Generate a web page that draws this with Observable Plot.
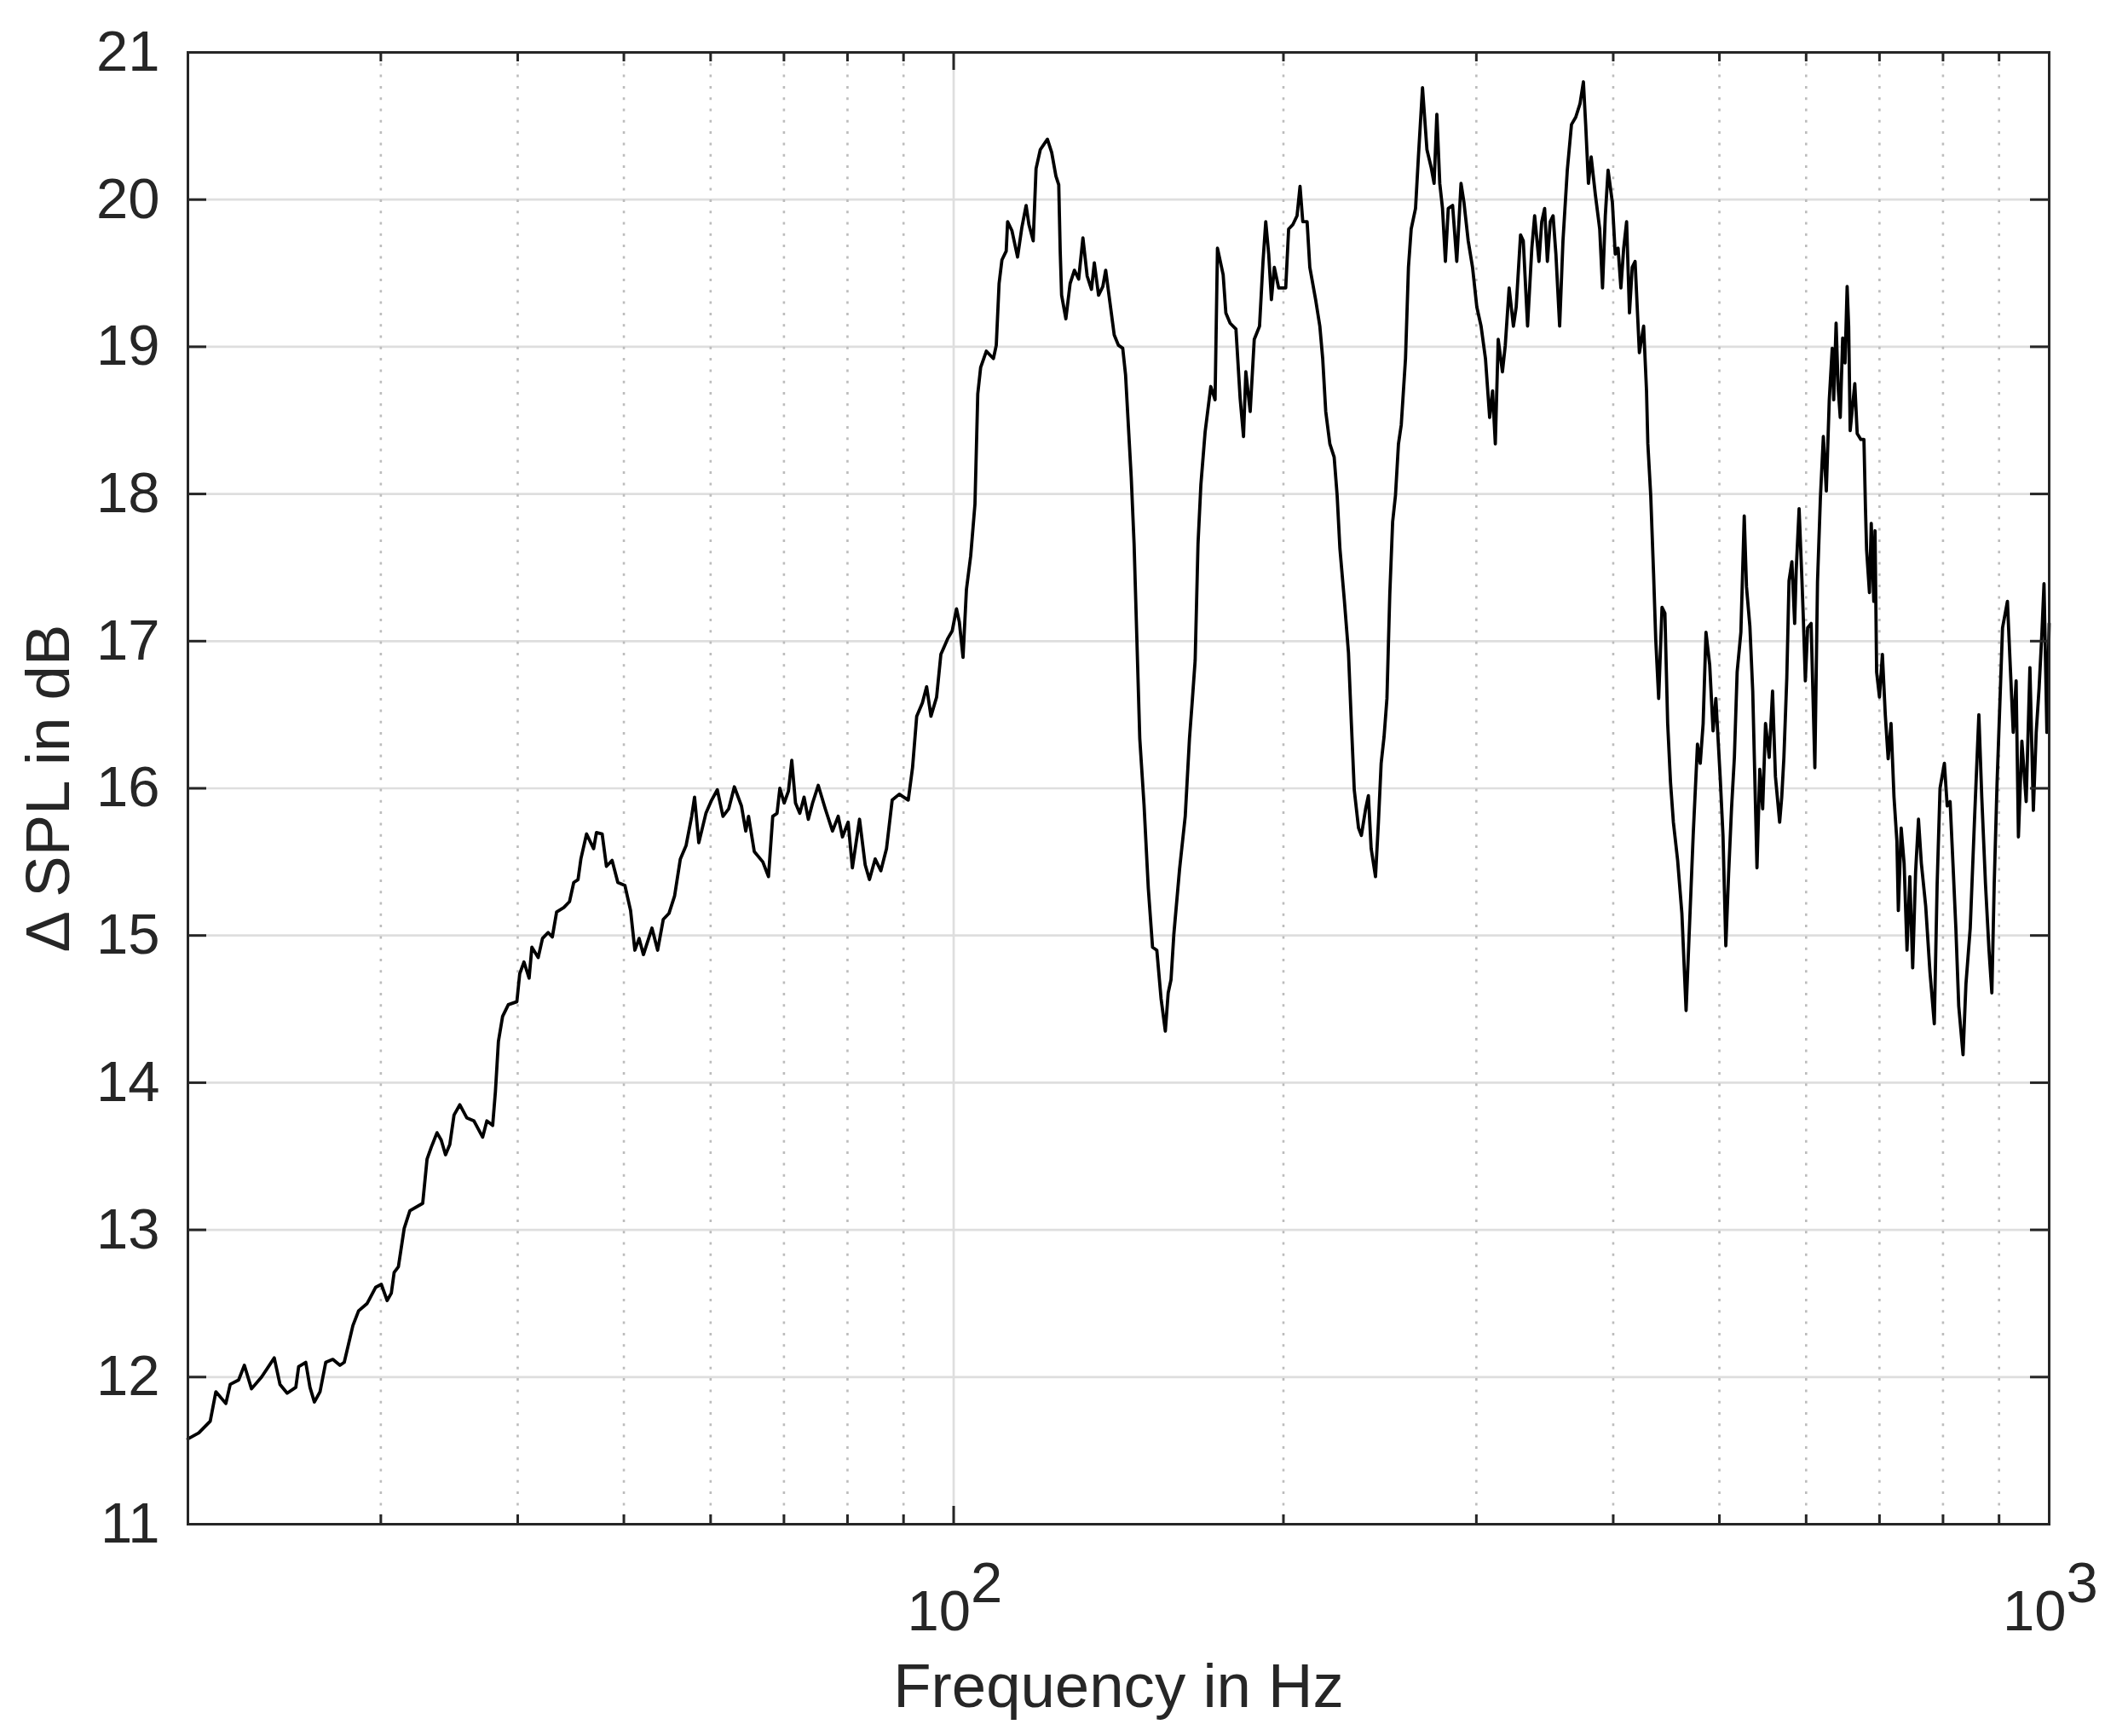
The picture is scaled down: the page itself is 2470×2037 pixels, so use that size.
<!DOCTYPE html>
<html>
<head>
<meta charset="utf-8">
<script src="https://cdn.jsdelivr.net/npm/d3@7"></script>
<script src="https://cdn.jsdelivr.net/npm/@observablehq/plot@0.6"></script>
<style>
  html, body { margin: 0; padding: 0; background: #ffffff; }
  #chart svg { display: block; }
</style>
</head>
<body>
<div id="chart"></div>
<script>
// Frequency in Hz (log axis) and ΔSPL in dB
const freq = [
  20.00,20.46,20.96,21.21,21.66,21.86,22.25,22.52,22.86,23.35,23.98,24.27,24.64,25.09,25.24,25.62,25.85,26.09,26.40,26.72,
  27.12,27.53,27.78,28.29,28.63,29.15,29.68,30.03,30.40,30.67,30.85,31.13,31.51,31.89,32.76,33.06,33.35,33.76,34.06,34.37,
  34.68,34.99,35.42,35.95,36.49,37.16,37.49,37.95,38.17,
  38.41,38.75,39.22,39.93,40.17,40.53,40.97,41.21,41.76,42.14,42.64,43.02,43.41,44.07,44.60,45.00,45.41,45.68,46.23,46.92,
  47.20,47.77,48.20,48.78,49.37,50.11,50.71,51.17,51.63,52.10,53.04,53.68,54.32,54.97,55.63,56.30,56.98,57.66,58.01,58.53,
  59.41,60.13,60.85,61.58,62.32,63.07,64.02,64.60,64.98,65.77,66.96,67.76,68.37,68.99,69.40,70.03,70.66,71.16,71.72,72.37,
  73.02,73.68,74.34,75.23,76.36,77.52,78.45,79.16,80.11,80.83,82.05,83.03,83.78,84.79,85.81,86.84,87.88,89.20,
  90.90,91.72,92.53,93.64,94.48,95.34,96.48,97.35,98.81,99.70,100.60,101.20,101.99,102.72,103.65,104.58,105.20,105.84,107.11,108.72,
  109.37,110.02,110.68,111.68,112.01,113.02,114.38,115.41,116.45,117.14,118.20,118.91,119.98,121.78,122.88,123.98,124.72,125.10,125.47,126.60,
  127.74,128.89,130.05,131.22,132.40,133.60,134.40,135.61,136.83,137.65,138.89,140.14,141.40,142.67,143.52,144.38,145.25,146.12,146.99,147.87,
  149.20,150.55,151.90,153.27,154.65,156.04,156.97,157.91,158.86,160.77,162.70,164.16,165.15,166.13,167.13,168.13,169.64,171.68,173.23,
  174.1,176.2,177.2,178.8,181.0,182.6,183.9,184.8,186.5,188.1,190.2,191.6,192.7,193.9,195.0,196.2,198.0,200.96,202.2,204.0,
  205.8,207.1,208.3,210.2,211.4,214.0,215.9,217.2,218.6,220.5,222.5,223.9,225.2,227.3,229.3,230.7,232.1,234.2,235.6,237.7,
  239.1,240.5,242.7,244.2,245.6,247.1,248.6,250.1,251.6,253.1,254.7,256.2,258.5,260.1,261.6,264.0,265.6,267.9,270.4,272.8,
  274.5,276.1,277.8,279.4,281.1,282.8,285.4,287.9,290.5,292.3,294.9,297.6,300.3,303.0,305.8,308.5,310.4,312.2,314.1,316.9,318.8,
  321.4,324.3,326.2,329.2,331.1,334.1,337.1,339.1,342.2,344.2,346.3,348.3,350.4,352.5,354.6,357.4,359.9,363.2,366.4,369.7,
  373.0,375.7,377.5,379.7,381.9,385.3,388.8,391.1,393.4,395.7,399.3,401.7,404.1,406.5,408.9,411.4,413.9,416.3,418.8,422.6,
  426.4,429.0,430.2,432.8,435.4,437.4,440.1,443.2,445.9,448.5,451.2,453.9,458.0,462.1,466.2,469.0,473.2,477.5,480.3,483.2,
  486.1,489.9,493.4,496.3,500.8,503.8,506.8,509.8,512.9,516.0,519.0,523.1,526.8,529.3,533.1,536.3,541.1,544.3,547.6,550.9,
  555.2,559.1,562.5,567.5,570.0,572.6,576.1,578.8,582.3,585.7,587.6,591.2,594.7,596.5,599.0,601.9,606.3,611.1,614.5,618.3,
  622.1,626.0,629.9,633.8,635.8,639.0,641.8,644.6,647.9,651.1,654.0,656.1,658.2,664.6,668.0,673.1,677.5,679.7,681.3,685.4,
  688.0,691.7,693.5,695.8,700.0,704.3,708.6,712.9,717.2,721.7,726.1,728.3,732.7,737.2,741.7,746.1,750.6,755.2,759.8,764.4,
  771.4,778.4,785.5,790.2,795.0,802.3,807.1,812.0,816.9,821.9,826.9,834.4,839.5,847.1,854.8,862.6,867.9,874.7,881.2,886.5,
  890.9,896.2,901.4,906.6,916.0,921.6,927.2,932.9,937.4,944.2,952.8,960.3,967.3,973.1,979.0,984.9,989.2,995.2,1000.0
];
const spl = [
  11.58,11.62,11.70,11.90,11.82,11.95,11.98,12.08,11.92,12.00,12.13,11.95,11.89,11.93,12.07,12.10,11.93,11.83,11.90,12.10,
  12.12,12.08,12.10,12.35,12.45,12.50,12.61,12.63,12.52,12.57,12.71,12.75,13.01,13.13,13.18,13.48,13.56,13.66,13.61,13.51,
  13.58,13.78,13.85,13.76,13.74,13.63,13.74,13.71,13.94,
  14.28,14.45,14.53,14.55,14.74,14.82,14.71,14.92,14.85,14.98,15.02,14.99,15.16,15.19,15.23,15.36,15.38,15.52,15.69,15.59,
  15.70,15.69,15.47,15.51,15.36,15.34,15.17,14.90,14.98,14.87,15.05,14.90,15.11,15.15,15.27,15.52,15.61,15.81,15.94,15.63,
  15.83,15.92,15.99,15.81,15.86,16.01,15.88,15.71,15.81,15.57,15.50,15.40,15.81,15.83,16.00,15.90,15.98,16.19,15.90,15.83,
  15.94,15.79,15.90,16.02,15.86,15.71,15.81,15.67,15.77,15.46,15.79,15.48,15.38,15.52,15.44,15.59,15.92,15.96,
  15.92,16.14,16.49,16.58,16.69,16.49,16.62,16.91,17.02,17.07,17.22,17.13,16.89,17.35,17.58,17.93,18.68,18.86,18.97,18.92,
  19.01,19.43,19.59,19.65,19.85,19.79,19.61,19.81,19.96,19.83,19.72,20.21,20.34,20.41,20.32,20.16,20.10,19.65,19.35,19.19,
  19.43,19.52,19.46,19.74,19.48,19.39,19.57,19.35,19.41,19.52,19.30,19.08,19.01,18.99,18.81,18.46,18.11,17.66,17.00,16.34,
  15.89,15.32,14.92,14.90,14.57,14.35,14.61,14.70,15.01,15.45,15.81,16.34,16.60,16.87,17.66,18.06,18.42,18.73,18.64,
  19.67,19.49,19.23,19.16,19.12,18.65,18.39,18.83,18.56,19.05,19.14,19.58,19.85,19.63,19.32,19.54,19.40,19.40,19.80,19.83,
  19.89,20.09,19.85,19.85,19.54,19.32,19.14,18.92,18.56,18.34,18.25,17.99,17.63,17.28,16.92,16.44,15.99,15.73,15.68,15.86,
  15.95,15.59,15.40,15.77,16.17,16.35,16.61,17.32,17.81,17.99,18.34,18.47,18.92,19.54,19.80,19.94,20.29,20.76,20.34,20.22,
  20.11,20.58,20.11,19.94,19.58,19.94,19.96,19.58,20.11,19.98,19.72,19.54,19.27,19.14,18.92,18.52,18.70,18.34,19.05,18.83,19.01,
  19.40,19.14,19.27,19.76,19.72,19.14,19.67,19.89,19.58,19.85,19.94,19.58,19.85,19.89,19.63,19.14,19.72,20.20,20.51,20.56,
  20.65,20.80,20.51,20.11,20.29,20.03,19.80,19.40,19.89,20.20,19.98,19.63,19.67,19.40,19.67,19.85,19.23,19.54,19.58,18.96,
  19.14,18.70,18.34,17.99,17.46,17.01,16.61,17.23,17.19,16.44,16.04,15.77,15.51,15.15,14.49,14.97,15.68,16.30,16.17,16.44,
  17.06,16.84,16.39,16.61,16.08,15.68,14.93,15.42,15.86,16.21,16.79,17.06,17.85,17.37,17.10,16.66,15.46,16.13,15.86,16.44,
  16.21,16.66,16.08,15.77,15.94,16.21,16.75,17.41,17.54,17.12,17.48,17.90,17.42,17.15,16.73,17.09,17.12,16.14,17.40,17.98,
  18.39,18.02,18.64,18.99,18.64,19.16,18.72,18.52,19.06,18.89,19.41,19.14,18.43,18.75,18.41,18.37,18.37,17.90,17.62,17.33,
  17.80,17.27,17.75,16.79,16.62,16.91,16.50,16.20,16.44,15.94,15.64,15.17,15.73,15.49,14.90,15.40,14.78,15.43,15.79,15.49,
  15.20,14.75,14.40,15.35,16.00,16.17,15.88,15.91,15.49,15.05,14.52,14.19,14.67,15.05,15.79,16.50,15.94,15.35,14.90,14.61,
  15.35,16.03,16.56,17.09,17.27,16.82,16.38,16.73,15.67,16.32,15.91,16.82,15.85,16.38,16.68,17.06,17.39,16.38,17.12
];

const yTicks = [11, 12, 13, 14, 15, 16, 17, 18, 19, 20, 21];
const xMajorTicks = [100, 1000];
const xMinorTicks = [30, 40, 50, 60, 70, 80, 90, 200, 300, 400, 500, 600, 700, 800, 900];
const xTickBase = ["10", "10"];
const xTickExponent = ["2", "3"];
const xLabel = "Frequency in Hz";
const yLabel = "\u0394 SPL in dB";

const data = freq.map((f, i) => ({ f, v: spl[i] }));
const majorLabels = xMajorTicks.map((t, i) => ({ t, base: xTickBase[i], exp: xTickExponent[i] }));

const W = 2470, H = 2037;
const mL = 220, mR = 66, mT = 61, mB = 249;
const plotW = W - mL - mR, plotH = H - mT - mB;
const ink = "#262626";

const chart = Plot.plot({
  width: W,
  height: H,
  marginLeft: mL,
  marginRight: mR,
  marginTop: mT,
  marginBottom: mB,
  x: { type: "log", domain: [20, 1000], axis: null },
  y: { domain: [11, 21], axis: null },
  style: {
    fontFamily: "'Liberation Sans', Arial, Helvetica, sans-serif",
    fontSize: "67px",
    color: ink,
    background: "#ffffff"
  },
  marks: [
    // grid
    Plot.ruleY(yTicks.slice(1, -1), { stroke: "#dedede", strokeWidth: 2.7 }),
    Plot.ruleX(xMajorTicks.slice(0, 1), { stroke: "#dedede", strokeWidth: 2.7 }),
    Plot.ruleX(xMinorTicks, { stroke: "#bcbcbc", strokeWidth: 2.6, strokeDasharray: "3,10.3" }),
    // curve
    Plot.line(data, { x: "f", y: "v", stroke: "#000000", strokeWidth: 3.8, strokeLinejoin: "round" }),
    // box
    Plot.frame({ stroke: ink, strokeWidth: 3 }),
    // inward ticks, left & right
    Plot.tickY(yTicks, { y: d => d, stroke: ink, strokeWidth: 3, insetRight: plotW - 22 }),
    Plot.tickY(yTicks, { y: d => d, stroke: ink, strokeWidth: 3, insetLeft: plotW - 22 }),
    // inward ticks, bottom & top
    Plot.tickX(xMajorTicks, { x: d => d, stroke: ink, strokeWidth: 3, insetTop: plotH - 21 }),
    Plot.tickX(xMajorTicks, { x: d => d, stroke: ink, strokeWidth: 3, insetBottom: plotH - 21 }),
    Plot.tickX(xMinorTicks, { x: d => d, stroke: ink, strokeWidth: 3, insetTop: plotH - 11 }),
    Plot.tickX(xMinorTicks, { x: d => d, stroke: ink, strokeWidth: 3, insetBottom: plotH - 11 }),
    // y tick labels
    Plot.axisY(yTicks, { anchor: "left", tickSize: 0, tickPadding: 33, fontSize: 67, fill: ink, label: null, tickFormat: d => String(d) }),
    // x tick labels 10^n
    Plot.text(majorLabels, { x: "t", text: "base", frameAnchor: "bottom", textAnchor: "end", lineAnchor: "middle", dx: 20, dy: 102.6, fontSize: 67, fill: ink }),
    Plot.text(majorLabels, { x: "t", text: "exp", frameAnchor: "bottom", textAnchor: "start", lineAnchor: "middle", dx: 20, dy: 69.6, fontSize: 67, fill: ink }),
    // axis titles
    Plot.text([xLabel], { text: d => d, frameAnchor: "bottom", textAnchor: "middle", lineAnchor: "middle", dy: 190.8, fontSize: 72.6, fill: ink }),
    Plot.text([yLabel], { text: d => d, frameAnchor: "left", textAnchor: "middle", lineAnchor: "middle", rotate: -90, dx: -163, fontSize: 72.6, fill: ink })
  ]
});

document.getElementById("chart").appendChild(chart);
</script>
</body>
</html>
